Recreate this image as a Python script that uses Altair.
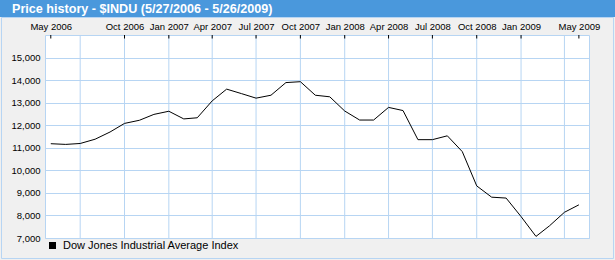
import altair as alt
import pandas as pd

months = pd.date_range("2006-05-01", "2009-05-01", freq="MS").strftime("%Y-%m-%d").tolist()
values = [11180, 11150, 11190, 11380, 11700, 12080, 12220, 12480, 12620, 12280, 12330,
          13080, 13600, 13400, 13200, 13330, 13890, 13930, 13330, 13260, 12630, 12230,
          12230, 12790, 12650, 11360, 11360, 11530, 10830, 9310, 8810, 8770, 7950, 7070,
          7540, 8140, 8470]
series_name = "Dow Jones Industrial Average Index"
label_dates = ["2006-05-01", "2006-10-01", "2007-01-01", "2007-04-01", "2007-07-01",
               "2007-10-01", "2008-01-01", "2008-04-01", "2008-07-01", "2008-10-01",
               "2009-01-01", "2009-05-01"]
grid_dates = ["2006-07-01", "2006-10-01", "2007-01-01", "2007-04-01", "2007-07-01",
              "2007-10-01", "2008-01-01", "2008-04-01", "2008-07-01", "2008-10-01",
              "2009-01-01", "2009-04-01"]
y_ticks = [7000, 8000, 9000, 10000, 11000, 12000, 13000, 14000, 15000]
title_text = "Price history - $INDU (5/27/2006 - 5/26/2009)"

df = pd.DataFrame({"date": months, "value": values, "series": series_name})
ticks_df = pd.DataFrame({"date": label_dates})
grid_df = pd.DataFrame({"date": grid_dates})

FONT = "Liberation Sans"
GRID = "#b7d5f3"
BLUE = "#4a98dc"
W, H = 544, 203

x_scale = alt.Scale(type="utc", domain=[alt.DateTime(year=2006, month=4, date=19, utc=True),
                                       alt.DateTime(year=2009, month=5, date=22, utc=True)])
y_scale = alt.Scale(domain=[7000, 16000], nice=False, zero=False)

x_axis = alt.Axis(orient="top", values=[alt.DateTime(year=int(d[:4]), month=int(d[5:7]), date=1, utc=True) for d in label_dates],
                  format="%b %Y", grid=False, ticks=False, domain=False, labelPadding=4,
                  labelFont=FONT, labelFontSize=9.5, labelColor="#000", title=None,
                  labelOverlap=False, labelFlush=False)
y_axis = alt.Axis(values=y_ticks, format=",d", grid=True, gridColor=GRID, ticks=False,
                  domain=False, labelPadding=5, labelFont=FONT, labelFontSize=9.5,
                  labelColor="#000", title=None)

one = alt.Data(values=[{}])

title_bar = alt.Chart(one).mark_rect(fill=BLUE).encode(
    x=alt.value(-45), x2=alt.value(W + 26), y=alt.value(-35), y2=alt.value(-18))
frame = alt.Chart(one).mark_rect(fill=None, stroke=GRID, strokeWidth=1).encode(
    x=alt.value(-43.5), x2=alt.value(W + 24.5), y=alt.value(-17.5), y2=alt.value(H + 20.5))
title = alt.Chart(one).mark_text(text=title_text, font=FONT, fontSize=12.6, fontWeight="bold",
                                 color="white", align="left", baseline="alphabetic").encode(
    x=alt.value(-33), y=alt.value(-22))

grid = alt.Chart(grid_df).mark_rule(color=GRID, strokeWidth=1).encode(
    x=alt.X("date:T", scale=x_scale, axis=x_axis))

line = alt.Chart(df).mark_line(strokeWidth=1, color="black").encode(
    x=alt.X("date:T", scale=x_scale, axis=x_axis),
    y=alt.Y("value:Q", scale=y_scale, axis=y_axis),
    color=alt.Color("series:N", scale=alt.Scale(range=["black"]),
                    legend=alt.Legend(title=None, orient="none", legendX=2, legendY=205,
                                      symbolType="square", symbolSize=49,
                                      symbolFillColor="black", symbolStrokeColor="black",
                                      symbolStrokeWidth=0, labelFont=FONT, labelFontSize=11,
                                      labelColor="#000", labelOffset=5, padding=0,
                                      labelLimit=400)))

tick_marks = alt.Chart(ticks_df).mark_rule(color="black", strokeWidth=1).encode(
    x=alt.X("date:T", scale=x_scale, axis=x_axis), y=alt.value(0), y2=alt.value(3.5))

chart = alt.layer(title_bar, frame, title, grid, line, tick_marks).properties(
    width=W, height=H,
    autosize=alt.AutoSizeParams(type="none"),
    padding={"left": 45, "top": 35, "right": 26, "bottom": 22},
    background="#f0f0f0",
).configure_view(stroke=GRID, fill="white", strokeWidth=1)

chart.save("out.html", embed_options={"renderer": "svg", "actions": False})
